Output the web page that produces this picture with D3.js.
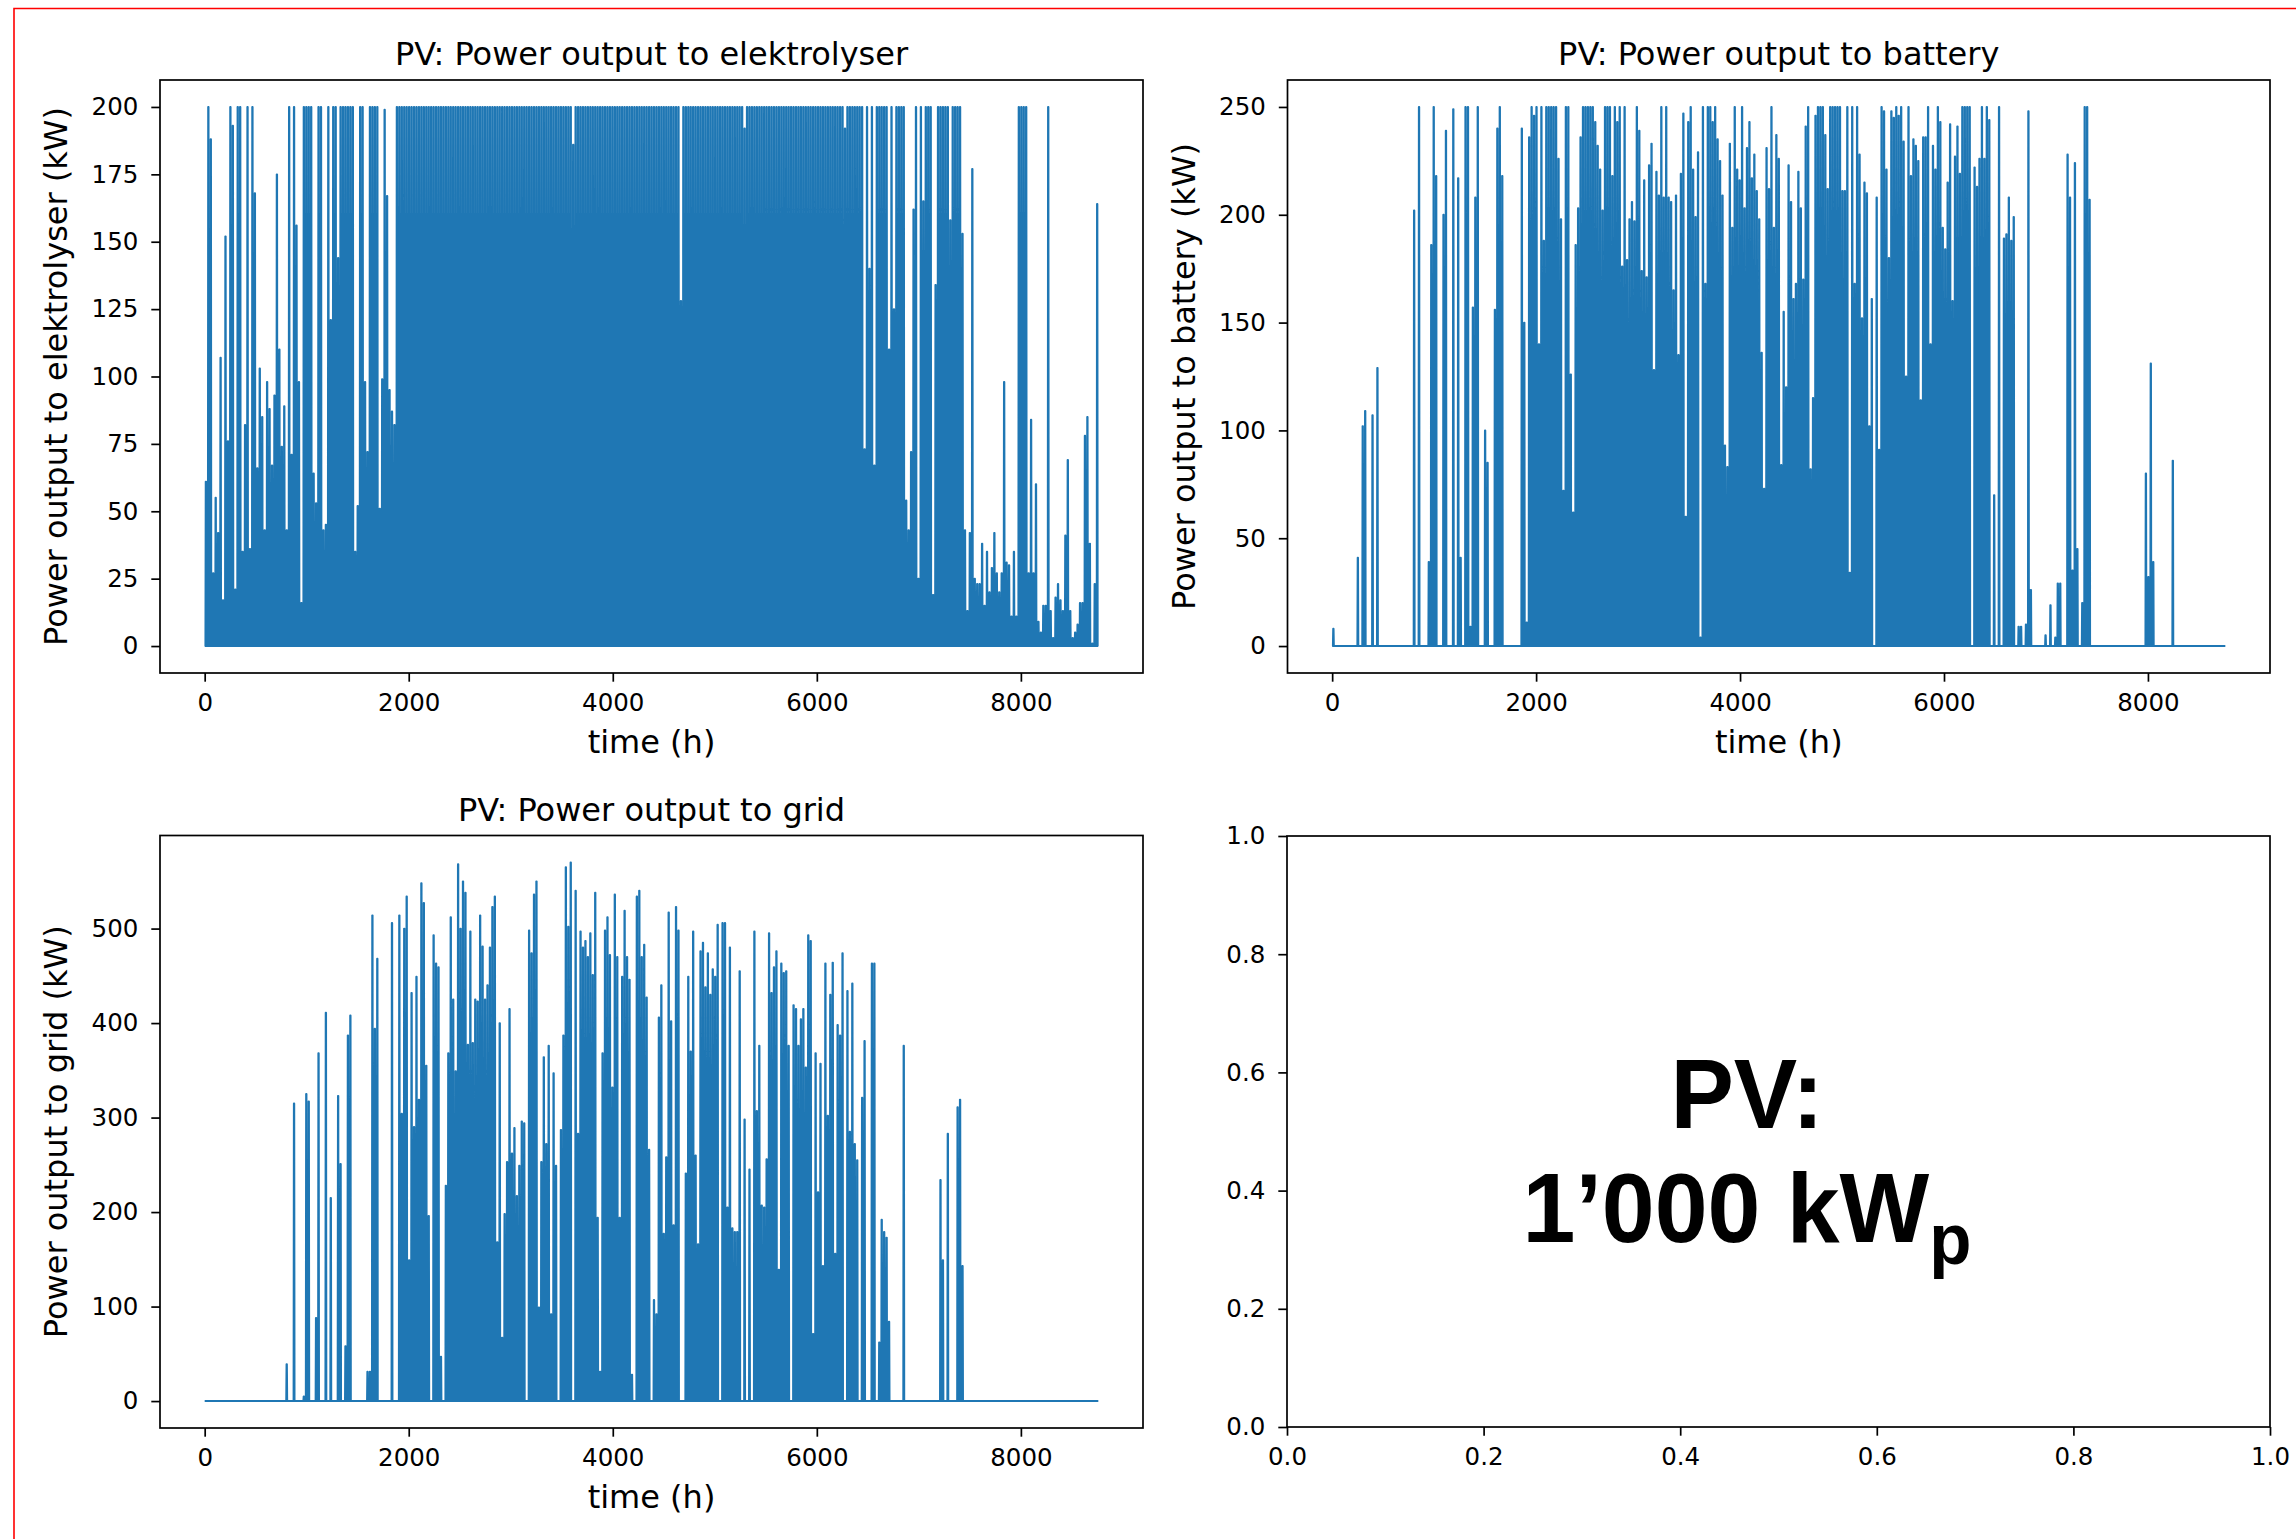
<!DOCTYPE html>
<html>
<head>
<meta charset="utf-8">
<script src="https://cdn.jsdelivr.net/npm/d3@7"></script>
<style>
  body { margin: 0; background: #fff; }
  svg text { font-family: "DejaVu Sans", sans-serif; }
  svg text.note { font-family: "Liberation Sans", Arial, sans-serif; font-weight: bold; }
</style>
</head>
<body>
<div id="chart"></div>
<script>
// daily peak of each series (kW), one value per day
const elekPeak = [
  61,200,188,27,55,42,107,17,152,76,
  200,193,21,200,200,35,82,200,36,200,
  168,66,103,85,43,98,88,67,93,175,
  110,74,89,43,200,71,200,156,98,16,
  200,200,200,200,64,53,200,200,43,45,
  200,121,200,200,144,200,200,200,200,200,
  200,35,52,200,200,98,72,200,200,200,
  200,51,99,199,167,95,87,
  82,200,200,200,200,200,200,200,200,200,
  200,200,200,200,200,200,200,200,200,200,
  200,200,200,200,200,200,200,200,200,200,
  200,200,200,200,200,200,200,200,200,200,
  200,200,200,200,200,200,200,200,200,200,
  200,200,200,200,200,200,200,200,200,200,
  200,200,200,200,200,200,200,200,200,200,
  200,200,200,186,200,200,200,200,200,200,
  200,200,200,200,200,200,200,200,200,200,
  200,200,200,200,200,200,200,200,200,200,
  200,200,200,200,200,200,200,200,200,200,
  200,200,200,200,200,200,200,128,200,200,
  200,200,200,200,200,200,200,200,200,200,
  200,200,200,200,200,200,200,200,200,200,
  200,200,200,192,200,200,200,200,200,200,
  200,200,200,200,200,200,200,200,200,200,
  200,200,200,200,200,200,200,200,200,200,
  200,200,200,200,200,200,200,200,200,200,
  200,200,200,200,192,200,200,200,200,200,
  200,200,73,200,140,200,67,200,200,200,200,200,110,200,125,200,200,200,200,
  54,43,72,162,200,25,200,165,200,200,
  200,19,134,200,200,200,200,200,158,200,
  200,200,200,153,43,13,42,177,25,23,
  23,38,15,35,20,29,42,27,20,27,
  98,31,30,11,35,11,200,200,200,200,
  27,84,27,60,9,5,15,15,200,13,
  3,18,23,17,13,41,69,13,3,5,
  8,16,16,78,85,38,1,23,164
];

const battPeak = [
  8,0,0,0,0,0,0,0,0,0,
  41,0,102,109,0,0,107,0,129,0,
  0,0,0,0,0,0,0,0,0,0,
  0,0,0,202,0,250,0,0,0,39,
  186,250,218,0,0,200,239,0,0,249,
  0,217,41,0,250,250,9,157,208,250,
  0,0,100,85,0,0,156,240,250,218,
  0,0,0,0,0,0,0,
  240,150,11,236,250,246,250,140,250,188,
  250,250,250,250,250,226,198,72,250,250,
  126,62,186,203,236,250,250,250,250,250,
  243,232,221,202,250,250,250,218,250,
  243,250,176,250,179,198,206,197,250,239,
  174,216,171,223,233,128,220,209,250,208,
  250,208,206,165,209,135,219,247,60,
  243,250,221,199,229,4,250,168,250,250,
  243,250,235,225,209,93,83,233,194,250,
  221,216,250,203,231,243,217,228,211,198,
  136,73,231,212,250,194,
  237,226,84,155,120,223,206,161,168,220,
  203,170,241,250,82,115,246,250,250,250,
  237,212,250,250,250,250,250,211,211,
  250,34,250,168,250,228,152,215,210,102,
  161,0,208,91,250,248,221,180,248,245,
  250,246,250,234,125,250,218,235,232,225,
  114,236,236,250,140,232,221,250,243,
  194,184,215,242,160,227,241,219,250,250,
  250,250,0,222,213,226,250,226,250,
  244,0,70,0,250,0,189,191,208,188,
  199,0,9,9,0,10,
  248,26,0,0,0,0,0,5,0,19,
  0,4,29,29,0,0,228,208,35,224,
  45,0,20,250,250,207,0,0,0,0,
  0,0,0,0,0,0,0,0,0,0,
  0,0,0,0,0,0,0,0,80,32,
  131,39,0,0,0,0,0,0,0,86,
  0,0,0,0,0,0,0,0,0,0,
  0,0,0,0,0,0,0,0,0,0,0
];

const gridPeak = [
  0,0,0,0,0,0,0,0,0,0,
  0,0,0,0,0,0,0,0,0,0,
  0,0,0,0,0,0,0,0,0,0,
  0,0,0,39,0,0,315,0,0,0,
  5,325,317,0,0,88,368,0,0,411,
  0,215,0,0,323,251,0,58,387,408,
  0,0,0,0,0,0,31,31,514,394,
  468,0,0,0,0,0,506,0,0,
  514,304,500,534,149,432,290,449,319,548,
  527,355,196,0,493,463,459,47,0,
  228,368,512,425,349,568,500,550,538,377,
  497,379,425,423,514,481,425,440,480,523,
  534,168,400,67,198,253,415,262,289,217,
  249,296,294,0,498,474,536,550,
  99,253,364,272,376,92,347,249,0,287,
  387,565,502,570,0,540,283,497,480,
  487,470,495,451,538,194,31,368,498,512,
  472,332,536,470,194,449,519,470,446,28,
  0,534,540,470,483,427,266,0,107,
  92,406,440,177,258,517,402,186,523,498,
  0,0,
  241,449,370,497,260,166,476,485,438,474,
  430,457,449,504,0,506,506,205,480,183,
  179,179,455,0,298,0,245,0,497,307,
  376,207,205,256,495,432,459,476,139,463,
  453,455,376,0,419,415,376,404,415,353,
  493,487,71,368,221,357,143,463,302,430,
  464,156,398,387,474,0,434,285,442,272,
  255,0,321,381,0,0,463,463,0,62,
  192,179,173,84,0,0,0,0,0,376,
  0,0,0,0,0,0,0,0,0,0,
  0,0,0,0,234,149,0,283,0,0,
  0,311,319,143,0,0,0,0,0,0,
  0,0,0,0,0,0,0,0,0,0,
  0,0,0,0,0,0,0,0,0,0,
  0,0,0,0,0,0,0,0,0,0,
  0,0,0,0,0,0,0,0,0,0,
  0,0,0,0,0,0,0,0,0
];

const xTicks = [0, 2000, 4000, 6000, 8000];
const elekTicks = [0, 25, 50, 75, 100, 125, 150, 175, 200];
const battTicks = [0, 50, 100, 150, 200, 250];
const gridTicks = [0, 100, 200, 300, 400, 500];
const unitTicks = [0, 0.2, 0.4, 0.6, 0.8, 1.0];

const titles = ["PV: Power output to elektrolyser", "PV: Power output to battery", "PV: Power output to grid"];
const yLabels = ["Power output to elektrolyser (kW)", "Power output to battery (kW)", "Power output to grid (kW)"];
const xLabel = "time (h)";
const noteTop = "PV:";
const noteMain = "1\u2019000 kW";
const noteSub = "p";

(function () {
  const W = 2296, H = 1539;
  const blue = "#1f77b4";

  const svg = d3.select("#chart").append("svg")
    .attr("width", W).attr("height", H);

  svg.append("rect").attr("width", W).attr("height", H).attr("fill", "#fff");

  // slide frame (only top and left edge are in view)
  svg.append("path")
    .attr("d", `M14,${H} V8.5 H${W}`)
    .attr("fill", "none")
    .attr("stroke", "#ff0000")
    .attr("stroke-width", 1.6);

  const panels = [
    { left: 160, top: 80, w: 983, h: 593, peaks: elekPeak, yTicks: elekTicks, title: titles[0], ylab: yLabels[0] },
    { left: 1287.5, top: 80, w: 982.5, h: 593, peaks: battPeak, yTicks: battTicks, title: titles[1], ylab: yLabels[1] },
    { left: 160, top: 835.5, w: 983, h: 592.5, peaks: gridPeak, yTicks: gridTicks, title: titles[2], ylab: yLabels[2] },
    { left: 1287, top: 836, w: 983, h: 591, peaks: null }
  ];

  // hourly-ish trace: each day rises to its peak around noon and drops back
  function toTrace(peaks) {
    const pts = [[0, 0]];
    peaks.forEach((v, d) => {
      pts.push([d * 24 + 7, 0], [d * 24 + 10, v], [d * 24 + 14, v], [d * 24 + 17, 0]);
    });
    pts.push([peaks.length * 24 - 1, 0]);
    return pts;
  }

  // matplotlib-like 5% margins
  function padded(lo, hi) {
    const m = (hi - lo) * 0.05;
    return [lo - m, hi + m];
  }

  function styleAxis(g) {
    g.select(".domain").remove();
    g.selectAll(".tick line").attr("stroke", "#000").attr("stroke-width", 1.7);
    g.selectAll(".tick text")
      .attr("fill", "#000")
      .style("font-family", "DejaVu Sans")
      .style("font-size", "24.5px");
  }

  panels.forEach((p) => {
    const g = svg.append("g").attr("transform", `translate(${p.left},${p.top})`);
    let x, y, xFmt, yFmt, xT, yT;

    if (p.peaks) {
      const trace = toTrace(p.peaks);
      x = d3.scaleLinear().domain(padded(0, trace[trace.length - 1][0])).range([0, p.w]);
      y = d3.scaleLinear().domain(padded(0, d3.max(p.peaks))).range([p.h, 0]);
      xFmt = d3.format("d");
      yFmt = d3.format("d");
      xT = xTicks;
      yT = p.yTicks;

      g.append("path")
        .datum(trace)
        .attr("fill", "none")
        .attr("stroke", blue)
        .attr("stroke-width", 1.9)
        .attr("stroke-linejoin", "round")
        .attr("d", d3.line().x((d) => x(d[0])).y((d) => y(d[1])));

      g.append("text")
        .attr("x", p.w / 2)
        .attr("y", -15)
        .attr("text-anchor", "middle")
        .style("font-size", "32px")
        .attr("fill", "#000")
        .text(p.title);

      g.append("text")
        .attr("x", p.w / 2)
        .attr("y", p.h + 80)
        .attr("text-anchor", "middle")
        .style("font-size", "32px")
        .attr("fill", "#000")
        .text(xLabel);

      g.append("text")
        .attr("transform", `translate(-93,${p.h / 2}) rotate(-90)`)
        .attr("text-anchor", "middle")
        .style("font-size", "32px")
        .attr("fill", "#000")
        .text(p.ylab);
    } else {
      x = d3.scaleLinear().domain([0, 1]).range([0, p.w]);
      y = d3.scaleLinear().domain([0, 1]).range([p.h, 0]);
      xFmt = d3.format(".1f");
      yFmt = d3.format(".1f");
      xT = unitTicks;
      yT = unitTicks;

      // big annotation, slightly narrowed like the pasted slide text
      g.append("text")
        .attr("class", "note")
        .attr("transform", `translate(${x(0.468)},${y(0.506)}) scale(0.96,1)`)
        .attr("text-anchor", "middle")
        .attr("fill", "#000")
        .style("font-size", "99px")
        .text(noteTop);
      const line2 = g.append("text")
        .attr("class", "note")
        .attr("transform", `translate(${x(0.468)},${y(0.313)}) scale(0.96,1)`)
        .attr("text-anchor", "middle")
        .attr("fill", "#000")
        .style("font-size", "99px")
        .text(noteMain);
      line2.append("tspan")
        .attr("dy", 22)
        .style("font-size", "72px")
        .text(noteSub);
    }

    g.append("g")
      .attr("transform", `translate(0,${p.h})`)
      .call(d3.axisBottom(x).tickValues(xT).tickFormat(xFmt).tickSize(8.7).tickPadding(12.4))
      .call(styleAxis);

    g.append("g")
      .call(d3.axisLeft(y).tickValues(yT).tickFormat(yFmt).tickSize(8.7).tickPadding(13))
      .call(styleAxis);

    g.append("rect")
      .attr("width", p.w)
      .attr("height", p.h)
      .attr("fill", "none")
      .attr("stroke", "#000")
      .attr("stroke-width", 1.7);
  });
})();
</script>
</body>
</html>
